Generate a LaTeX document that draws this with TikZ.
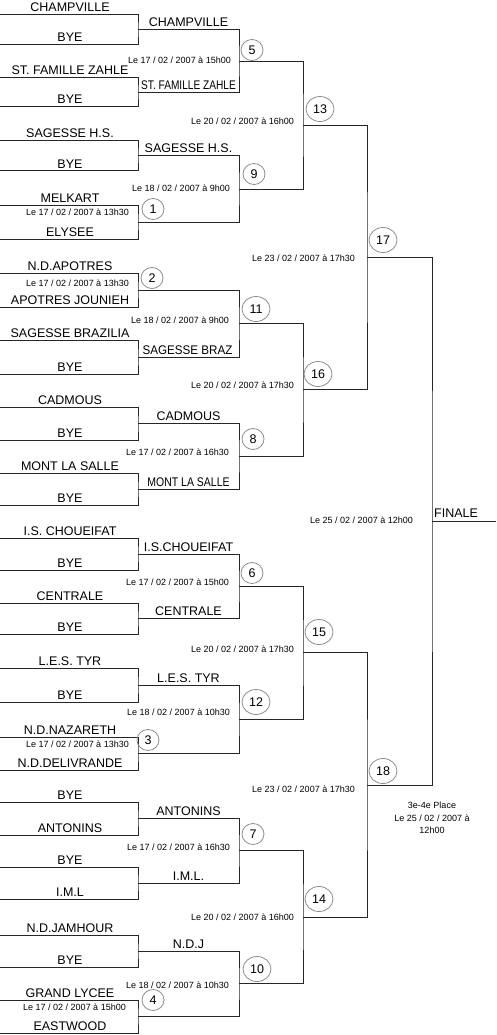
\documentclass[tikz,border=0pt]{standalone}
\usepackage{fontspec}
\setmainfont{Liberation Sans}
\usetikzlibrary{shapes.geometric,calc}
\tikzset{
  br/.style={draw=black!85, line width=1pt},
  team/.style={font=\fontsize{12.5}{14}\selectfont, anchor=base, inner sep=0pt},
  dt/.style={font=\fontsize{9}{10}\selectfont, anchor=base east, inner sep=0pt},
  num/.style={ellipse, draw=black!45, line width=0.8pt, font=\fontsize{12.5}{14}\selectfont, inner sep=0pt, minimum width=22pt, minimum height=21pt},
  numw/.style={num, minimum width=28pt, minimum height=25pt},
}
\newcommand\matchA[4]{% name, xright, ytop, ybot
  \coordinate (#1-t) at (0,#3);
  \coordinate (#1-b) at (0,#4);
  \coordinate (#1) at (#2,{(#3+#4)/2});
  \draw[br] (#1-t) -| (#1) |- (#1-b);}
\newcommand\matchB[4]{% name, dx, src top, src bottom
  \coordinate (#1) at ($(#3)!.5!(#4)+(#2,0)$);
  \draw[br] (#3) -| (#1) |- (#4);}
\newcommand\tm[4]{\node[team] (#1) at (#2,#3) {#4};}
\newcommand\dte[4]{\node[dt] (#1) at (#2,#3) {#4};}
\begin{document}
\begin{tikzpicture}[x=1pt,y=-1pt]
\useasboundingbox (0,0) rectangle (496,1035);
% round 1
\matchA{a1}{138}{15}{45}
\matchA{a2}{138}{78}{107}
\matchA{a3}{138}{141}{171}
\matchA{a4}{138}{205}{239}
\matchA{a5}{138}{273}{307}
\matchA{a6}{138}{340}{374}
\matchA{a7}{138}{407}{440}
\matchA{a8}{138}{473}{505}
\matchA{a9}{138}{538}{570}
\matchA{a10}{138}{603}{634}
\matchA{a11}{138}{668}{702}
\matchA{a12}{138}{737}{770}
\matchA{a13}{138}{802}{835}
\matchA{a14}{138}{867}{899}
\matchA{a15}{138}{935}{967}
\matchA{a16}{138}{1000}{1033}
% round 2
\matchB{b1}{101}{a1}{a2}
\matchB{b2}{101}{a3}{a4}
\matchB{b3}{101}{a5}{a6}
\matchB{b4}{101}{a7}{a8}
\matchB{b5}{101}{a9}{a10}
\matchB{b6}{101}{a11}{a12}
\matchB{b7}{101}{a13}{a14}
\matchB{b8}{101}{a15}{a16}
% round 3
\matchB{c1}{64}{b1}{b2}
\matchB{c2}{64}{b3}{b4}
\matchB{c3}{64}{b5}{b6}
\matchB{c4}{64}{b7}{b8}
% round 4
\matchB{d1}{64}{c1}{c2}
\matchB{d2}{64}{c3}{c4}
% round 5
\matchB{e1}{65}{d1}{d2}
\coordinate (fin) at ($(e1)+(64,0)$);
\draw[br] (e1) -- (fin);
% column 1 names
\tm{t1a}{70}{12}{CHAMPVILLE}
\tm{t1b}{70}{42}{BYE}
\tm{t2a}{70}{75}{ST. FAMILLE ZAHLE}
\tm{t2b}{70}{104}{BYE}
\tm{t3a}{70}{138}{SAGESSE H.S.}
\tm{t3b}{70}{168}{BYE}
\tm{t4a}{70}{202}{MELKART}
\tm{t4b}{70}{236}{ELYSEE}
\tm{t5a}{70}{270}{N.D.APOTRES}
\tm{t5b}{70}{304}{APOTRES JOUNIEH}
\tm{t6a}{70}{337}{SAGESSE BRAZILIA}
\tm{t6b}{70}{371}{BYE}
\tm{t7a}{70}{404}{CADMOUS}
\tm{t7b}{70}{437}{BYE}
\tm{t8a}{70}{470}{MONT LA SALLE}
\tm{t8b}{70}{502}{BYE}
\tm{t9a}{70}{535}{I.S. CHOUEIFAT}
\tm{t9b}{70}{567}{BYE}
\tm{t10a}{70}{600}{CENTRALE}
\tm{t10b}{70}{631}{BYE}
\tm{t11a}{70}{665}{L.E.S. TYR}
\tm{t11b}{70}{699}{BYE}
\tm{t12a}{70}{734}{N.D.NAZARETH}
\tm{t12b}{70}{767}{N.D.DELIVRANDE}
\tm{t13a}{70}{799}{BYE}
\tm{t13b}{70}{832}{ANTONINS}
\tm{t14a}{70}{864}{BYE}
\tm{t14b}{70}{896}{I.M.L}
\tm{t15a}{70}{932}{N.D.JAMHOUR}
\tm{t15b}{70}{964}{BYE}
\tm{t16a}{70}{997}{GRAND LYCEE}
\tm{t16b}{70}{1030}{EASTWOOD}
% column 2 names
\tm{w1}{188.5}{27}{CHAMPVILLE}
\tm{w2}{188.5}{89.5}{\scalebox{0.81}[1]{ST. FAMILLE ZAHLE}}
\tm{w3}{188.5}{153}{SAGESSE H.S.}
\tm{w6}{187.5}{354.5}{\scalebox{0.93}[1]{SAGESSE BRAZ}}
\tm{w7}{188.5}{420.5}{CADMOUS}
\tm{w8}{188.5}{486}{\scalebox{0.84}[1]{MONT LA SALLE}}
\tm{w9}{188.5}{551}{I.S.CHOUEIFAT}
\tm{w10}{188.5}{615.5}{CENTRALE}
\tm{w11}{188.5}{682.5}{L.E.S. TYR}
\tm{w13}{188.5}{815.5}{ANTONINS}
\tm{w14}{188.5}{880.5}{I.M.L.}
\tm{w15}{188.5}{948}{N.D.J}
\node[team, anchor=base west] (finale) at (434,517) {FINALE};
% dates
\dte{d5}{231}{64}{Le 17 / 02 / 2007 à 15h00}
\dte{d13}{294}{125}{Le 20 / 02 / 2007 à 16h00}
\dte{d9}{230}{192}{Le 18 / 02 / 2007 à 9h00}
\dte{d1x}{129}{215}{Le 17 / 02 / 2007 à 13h30}
\dte{d17}{355}{261}{Le 23 / 02 / 2007 à 17h30}
\dte{d2x}{129}{286}{Le 17 / 02 / 2007 à 13h30}
\dte{d11}{229}{323}{Le 18 / 02 / 2007 à 9h00}
\dte{d16}{294}{388}{Le 20 / 02 / 2007 à 17h30}
\dte{d8}{229}{455}{Le 17 / 02 / 2007 à 16h30}
\dte{dfin}{413}{523}{Le 25 / 02 / 2007 à 12h00}
\dte{d6}{229}{585}{Le 17 / 02 / 2007 à 15h00}
\dte{d15}{294}{652}{Le 20 / 02 / 2007 à 17h30}
\dte{d12}{230}{715}{Le 18 / 02 / 2007 à 10h30}
\dte{d3x}{129}{747}{Le 17 / 02 / 2007 à 13h30}
\dte{d18}{355}{792}{Le 23 / 02 / 2007 à 17h30}
\dte{d7}{230}{850}{Le 17 / 02 / 2007 à 16h30}
\dte{d14}{294}{920}{Le 20 / 02 / 2007 à 16h00}
\dte{d10}{229}{988}{Le 18 / 02 / 2007 à 10h30}
\dte{d4x}{126}{1010}{Le 17 / 02 / 2007 à 15h00}
\node[font=\fontsize{9}{12.5}\selectfont, align=center, inner sep=0pt] (third) at (432,818) {3e-4e Place\\Le 25 / 02 / 2007 à\\12h00};
% match numbers
\node[num] (n1) at (153,209) {1};
\node[num] (n2) at (152,278) {2};
\node[num] (n3) at (148,740) {3};
\node[num] (n4) at (153,1000) {4};
\node[num] (n5) at (252,50) {5};
\node[num] (n6) at (252,573) {6};
\node[num] (n7) at (253,834) {7};
\node[num] (n8) at (253,439) {8};
\node[num] (n9) at (254,174) {9};
\node[numw] (n10) at (257,969) {10};
\node[numw] (n11) at (256,309) {11};
\node[numw] (n12) at (256,702) {12};
\node[numw] (n13) at (320,109) {13};
\node[numw] (n14) at (319,899) {14};
\node[numw] (n15) at (319,632) {15};
\node[numw] (n16) at (318,374) {16};
\node[numw] (n17) at (383,240) {17};
\node[numw] (n18) at (383,771) {18};
\end{tikzpicture}
\end{document}
